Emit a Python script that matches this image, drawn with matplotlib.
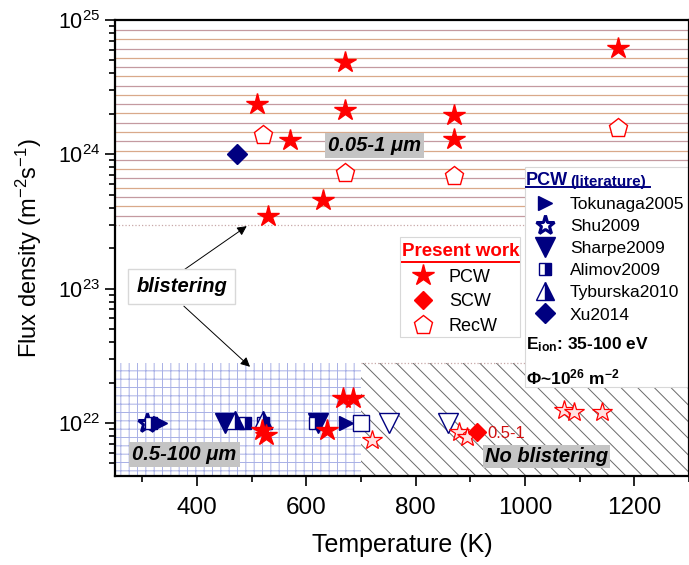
import numpy as np
import matplotlib
matplotlib.use("Agg")
import matplotlib.pyplot as plt
from matplotlib.ticker import MultipleLocator, LogLocator

plt.rcParams.update({"font.family": "Liberation Sans", "hatch.linewidth": 0.7,
                     "mathtext.fontset": "custom", "mathtext.rm": "Liberation Sans",
                     "mathtext.it": "Liberation Sans:italic", "mathtext.bf": "Liberation Sans:bold"})

NAVY = "#000080"
RED = "#ff0000"

# ---- present work ----
pcw_T = [510, 570, 530, 630, 670, 670, 870, 870, 1170, 518, 527, 637, 667, 685]
pcw_flux = [2.35e24, 1.27e24, 3.45e23, 4.6e23, 4.85e24, 2.15e24, 1.97e24, 1.29e24, 6.2e24,
            8.8e21, 8.2e21, 8.9e21, 1.53e22, 1.53e22]
scw_T = [913]
scw_flux = [8.6e21]
recw_T = [520, 670, 871, 1170]
recw_flux = [1.40e24, 7.3e23, 6.9e23, 1.57e24]
open_star_T = [720, 880, 893, 1071, 1089, 1140]
open_star_flux = [7.5e21, 8.6e21, 7.9e21, 1.25e22, 1.21e22, 1.21e22]

# ---- PCW literature ----
toku_T = [333, 673]
toku_flux = [1e22, 1e22]
shu_T = [309]
shu_flux = [1e22]
sharpe_T = [452, 621]
sharpe_flux = [1e22, 1e22]
sharpe_nb_T = [752, 860]
sharpe_nb_flux = [1e22, 1e22]
alimov_T = [316, 487, 521, 615]
alimov_flux = [1e22, 1e22, 1e22, 1e22]
alimov_nb_T = [700]
alimov_nb_flux = [1e22]
tyb_T = [470, 521]
tyb_flux = [1.05e22, 1.05e22]
xu_T = [473]
xu_flux = [1e24]

# region bounds
band_low, band_high = 10**23.544, 10**24.926
blister_line = 2.97e23
grid_top = 2.8e22
split_T = 700
XLIM = (250, 1300)
YLIM = (4.03e21, 1e25)

fig = plt.figure(figsize=(6.89, 5.65), dpi=100)
ax = fig.add_axes([0.1669, 0.1575, 0.8331, 0.8071])
ax.set_yscale("log")
ax.set_xlim(*XLIM); ax.set_ylim(*YLIM)

# background regions
for i, yv in enumerate(np.logspace(np.log10(band_low), np.log10(band_high), 21)):
    ax.axhline(yv, color=["#c49aa0", "#d9a98a"][i % 2], lw=0.9, zorder=0.5)
ax.axhline(blister_line, color="#c8a8a8", lw=0.9, ls=":", zorder=0.5)
ax.fill_between([XLIM[0], split_T], YLIM[0], grid_top, facecolor="white",
                edgecolor="#a8b0e6", hatch="++", lw=0, zorder=0.4)
ax.fill_between([split_T, XLIM[1]], YLIM[0], grid_top, facecolor="white",
                edgecolor="#6a6a6a", hatch="\\\\", lw=0, zorder=0.4)
ax.hlines(grid_top, split_T, XLIM[1], colors="#c8a8a8", linestyles=":", lw=0.9, zorder=0.5)

# literature markers
ms_kw = dict(ls="none", zorder=3)
h_toku, = ax.plot(toku_T, toku_flux, marker=">", ms=10, color=NAVY, label="Tokunaga2005", **ms_kw)
h_shu, = ax.plot(shu_T, shu_flux, marker="*", ms=14, mfc="white", mec=NAVY, mew=2.2, label="Shu2009", **ms_kw)
h_sharpe, = ax.plot(sharpe_T, sharpe_flux, marker="v", ms=15, color=NAVY, label="Sharpe2009", **ms_kw)
ax.plot(sharpe_nb_T, sharpe_nb_flux, marker="v", ms=14, mfc="white", mec=NAVY, mew=1, **ms_kw)
h_alimov, = ax.plot(alimov_T, alimov_flux, marker="s", ms=9, fillstyle="right", color=NAVY,
                    mfc=NAVY, markerfacecoloralt="white", mec=NAVY, mew=1, label="Alimov2009", **ms_kw)
ax.plot(alimov_nb_T, alimov_nb_flux, marker="s", ms=11, mfc="white", mec=NAVY, mew=1, **ms_kw)
h_tyb, = ax.plot(tyb_T, tyb_flux, marker="^", ms=13, fillstyle="right", color=NAVY,
                 mfc=NAVY, markerfacecoloralt="white", mec=NAVY, mew=1, label="Tyburska2010", **ms_kw)
h_xu, = ax.plot(xu_T, xu_flux, marker="D", ms=10, color=NAVY, label="Xu2014", **ms_kw)

# present work markers
ax.plot(open_star_T, open_star_flux, marker="*", ms=15, mfc="#ffe2e2", mec=RED, mew=0.9, ls="none", zorder=3.5)
h_pcw, = ax.plot(pcw_T, pcw_flux, marker="*", ms=16, color=RED, ls="none", zorder=4, label="PCW")
h_scw, = ax.plot(scw_T, scw_flux, marker="D", ms=9, color=RED, ls="none", zorder=4, label="SCW")
h_recw, = ax.plot(recw_T, recw_flux, marker="p", ms=14, mfc="white", mec=RED, mew=1, ls="none", zorder=4, label="RecW")
ax.text(931, 8.4e21, "0.5-1", color="#d01010", fontsize=12, ha="left", va="center", zorder=5)

# region labels
lab_kw = dict(fontsize=14.5, fontweight="bold", fontstyle="italic", ha="center", va="center", zorder=6)
ax.text(725, 1.17e24, "0.05-1 μm", bbox=dict(boxstyle="square,pad=0.15", fc="#c4c4c4", ec="none"), **lab_kw)
ax.text(377, 5.8e21, "0.5-100 μm", bbox=dict(boxstyle="square,pad=0.15", fc="#c4c4c4", ec="none"), **lab_kw)
ax.text(1039, 5.6e21, "No blistering", bbox=dict(boxstyle="square,pad=0.1", fc="#c4c4c4", ec="none"), **lab_kw)
ax.text(372, 1.03e23, "blistering", bbox=dict(boxstyle="square,pad=0.4", fc="white", ec="#d8d8d8"), **lab_kw)
arr = dict(arrowstyle="-|>", color="black", lw=0.7, mutation_scale=14, shrinkA=0, shrinkB=0)
ax.annotate("", xy=(491, 2.92e23), xytext=(375, 1.37e23), arrowprops=arr, zorder=5)
ax.annotate("", xy=(497, 2.62e22), xytext=(376, 7.41e22), arrowprops=arr, zorder=5)

# legend boxes
ax.add_patch(plt.Rectangle((0.4965, 0.305), 0.209, 0.219, transform=ax.transAxes,
                           fc="white", ec="#d8d8d8", lw=0.8, zorder=7))
ax.add_patch(plt.Rectangle((0.714, 0.195), 0.3, 0.483, transform=ax.transAxes,
                           fc="white", ec="#d8d8d8", lw=0.8, zorder=7, clip_on=False))

ax.text(0.6019, 0.492, "Present work", transform=ax.transAxes, color=RED, fontsize=13.5,
        fontweight="bold", ha="center", va="center", zorder=8)
ax.plot([0.5, 0.704], [0.470, 0.470], transform=ax.transAxes, color=RED, lw=1.4, zorder=8, clip_on=False)
leg1 = ax.legend([h_pcw, h_scw, h_recw], ["PCW", "SCW", "RecW"], loc="upper left",
                 bbox_to_anchor=(0.512, 0.455), frameon=False, fontsize=13, borderpad=0,
                 borderaxespad=0, handlelength=1.6, handletextpad=0.62, labelspacing=0.44)
leg1.set_zorder(9)
ax.add_artist(leg1)

ax.text(0.716, 0.649, "PCW", transform=ax.transAxes, color=NAVY, fontsize=13,
        fontweight="bold", ha="left", va="center", zorder=8)
ax.text(0.7927, 0.645, "(literature)", transform=ax.transAxes, color=NAVY, fontsize=11,
        fontweight="bold", ha="left", va="center", zorder=8)
ax.plot([0.716, 0.932], [0.633, 0.633], transform=ax.transAxes, color=NAVY, lw=1.4, zorder=8, clip_on=False)
leg2 = ax.legend([h_toku, h_shu, h_sharpe, h_alimov, h_tyb, h_xu],
                 ["Tokunaga2005", "Shu2009", "Sharpe2009", "Alimov2009", "Tyburska2010", "Xu2014"],
                 loc="upper left", bbox_to_anchor=(0.7247, 0.612), frameon=False, fontsize=12.5,
                 borderpad=0, borderaxespad=0, handlelength=1.6, handletextpad=0.64, labelspacing=0.4)
leg2.set_zorder(9)
ax.text(0.716, 0.289, r"$\mathbf{E_{ion}}$: 35-100 eV", transform=ax.transAxes, fontsize=12.5,
        fontweight="bold", ha="left", va="center", zorder=8)
ax.text(0.716, 0.2158, r"Φ~10$^{\mathbf{26}}$ m$^{\mathbf{-2}}$", transform=ax.transAxes, fontsize=12.5,
        fontweight="bold", ha="left", va="center", zorder=8)

# axes styling
ax.xaxis.set_major_locator(MultipleLocator(200))
ax.xaxis.set_minor_locator(MultipleLocator(100))
ax.yaxis.set_major_locator(LogLocator(base=10))
ax.yaxis.set_minor_locator(LogLocator(base=10, subs=np.arange(2, 10)))
ax.tick_params(which="both", direction="out", top=False, right=False, width=1.2)
ax.tick_params(which="major", length=7)
ax.tick_params(which="minor", length=4)
ax.tick_params(axis="x", labelsize=17.5, pad=8)
ax.tick_params(axis="y", labelsize=15.5)
for s in ax.spines.values():
    s.set_linewidth(1.6)
    s.set_zorder(10)
ax.set_xlabel("Temperature (K)", fontsize=18, labelpad=10)
ax.set_ylabel(r"Flux density (m$^{-2}$s$^{-1}$)", fontsize=17, labelpad=10)

fig.savefig("out.png", dpi=100)
